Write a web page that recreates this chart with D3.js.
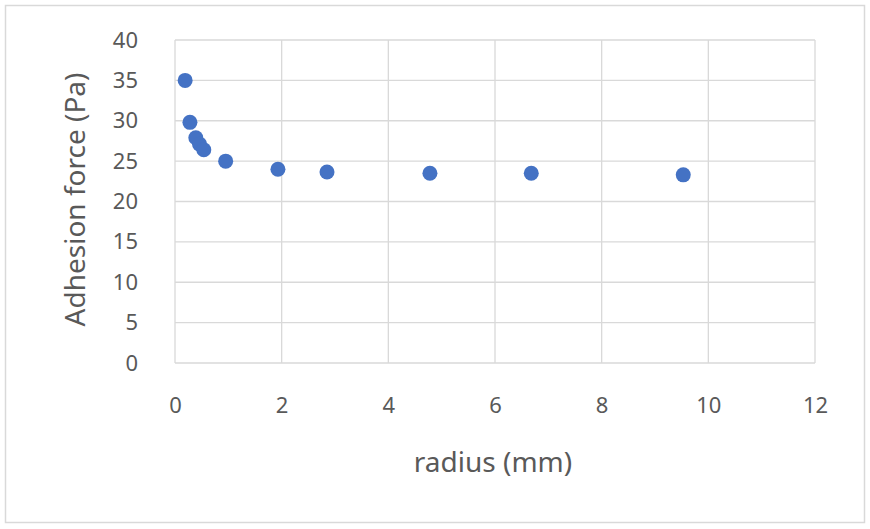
<!DOCTYPE html>
<meta charset="utf-8">
<style>
body { margin: 0; background: #fff; }
.tick text { font: 22px "Noto Sans", sans-serif; fill: #595959; }
.title { font: 28px "Noto Sans", sans-serif; fill: #595959; }
</style>
<body>
<script src="https://d3js.org/d3.v7.min.js"></script>
<script>
// data
var radius = [0.19, 0.28, 0.39, 0.46, 0.54, 0.95, 1.93, 2.85, 4.78, 6.68, 9.53];
var force  = [35.0, 29.8, 27.9, 27.1, 26.4, 25.0, 24.0, 23.65, 23.5, 23.5, 23.3];
var xTicks = [0, 2, 4, 6, 8, 10, 12];
var yTicks = [0, 5, 10, 15, 20, 25, 30, 35, 40];

var W = 870, H = 529;
var margin = {top: 40, right: 55, bottom: 166, left: 175},
    width = W - margin.left - margin.right,
    height = H - margin.top - margin.bottom;

var svg = d3.select("body").append("svg")
    .attr("width", W)
    .attr("height", H);

// chart border
svg.append("rect")
    .attr("x", 5.5).attr("y", 5.5)
    .attr("width", 859).attr("height", 517)
    .attr("fill", "none").attr("stroke", "#d9d9d9").attr("stroke-width", 1.5);

var g = svg.append("g")
    .attr("transform", "translate(" + margin.left + "," + margin.top + ")");

var x = d3.scaleLinear().domain([0, 12]).range([0, width]);
var y = d3.scaleLinear().domain([0, 40]).range([height, 0]);

// grid
g.selectAll(".vgrid").data(xTicks).enter().append("line")
    .attr("x1", d => x(d)).attr("x2", d => x(d))
    .attr("y1", 0).attr("y2", height)
    .attr("stroke", "#d9d9d9").attr("stroke-width", 1.3);
g.selectAll(".hgrid").data(yTicks).enter().append("line")
    .attr("x1", 0).attr("x2", width)
    .attr("y1", d => y(d)).attr("y2", d => y(d))
    .attr("stroke", "#d9d9d9").attr("stroke-width", 1.3);

// axes (labels only)
var xAxis = g.append("g")
    .attr("transform", "translate(0," + height + ")")
    .call(d3.axisBottom(x).tickValues(xTicks).tickSize(0).tickPadding(34));
xAxis.select(".domain").remove();

var yAxis = g.append("g")
    .call(d3.axisLeft(y).tickValues(yTicks).tickSize(0).tickPadding(37));
yAxis.select(".domain").remove();

// points
g.selectAll(".dot").data(radius).enter().append("circle")
    .attr("cx", d => x(d))
    .attr("cy", (d, i) => y(force[i]))
    .attr("r", 7.5)
    .attr("fill", "#4472c4");

// axis titles
svg.append("text").attr("class", "title")
    .attr("x", margin.left + width / 2 - 2).attr("y", 472)
    .attr("text-anchor", "middle")
    .text("radius (mm)");

svg.append("text").attr("class", "title")
    .attr("transform", "translate(85," + (margin.top + height / 2 - 2) + ") rotate(-90)")
    .attr("text-anchor", "middle")
    .text("Adhesion force (Pa)");
</script>
</body>
